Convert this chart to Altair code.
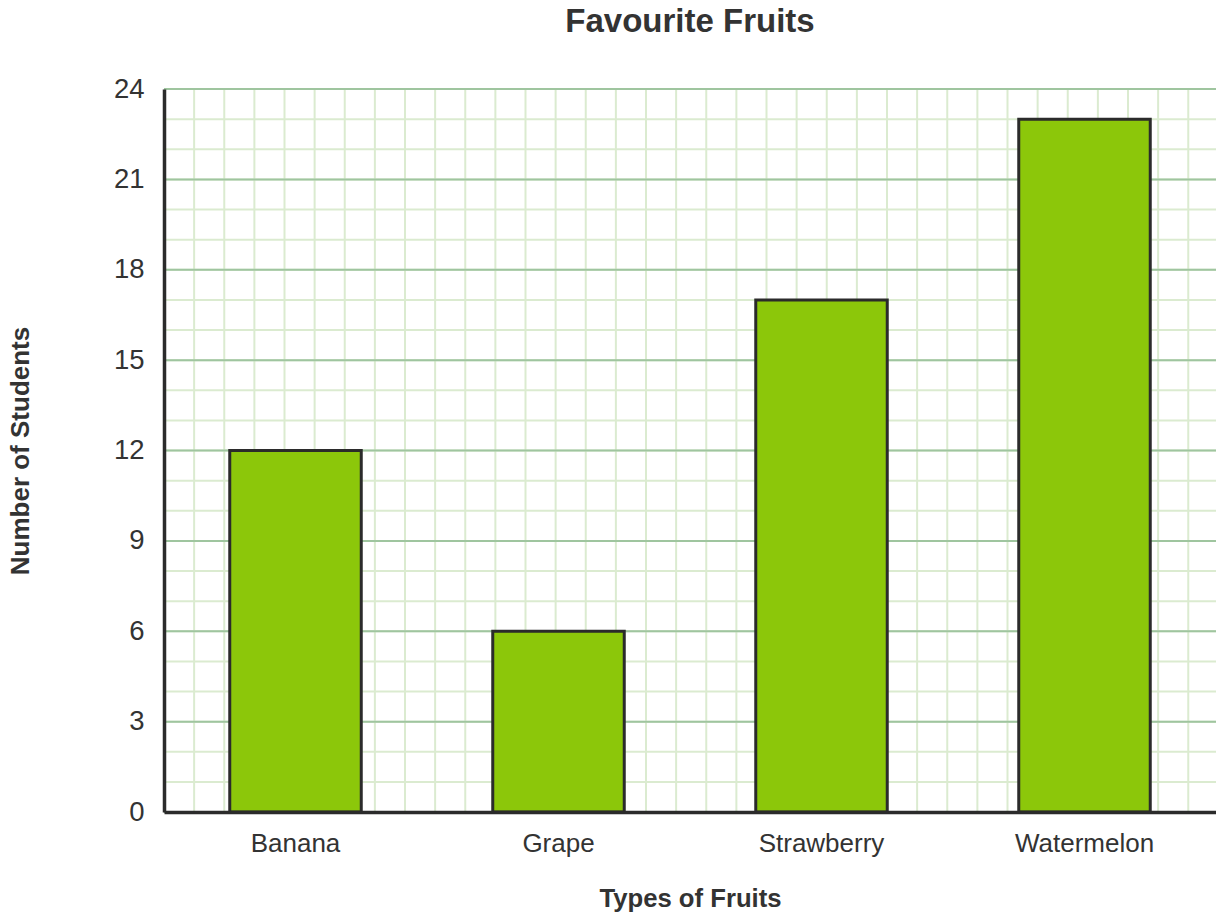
import altair as alt
import pandas as pd

# ---- data ----
fruits = ["Banana", "Grape", "Strawberry", "Watermelon"]
students = [12, 6, 17, 23]
y_ticks = [0, 3, 6, 9, 12, 15, 18, 21, 24]
minor_y = [0, 1, 2, 3, 4, 5, 6, 7, 8, 9, 10, 11, 12, 13, 14, 15, 16, 17, 18, 19, 20, 21, 22, 23, 24]
minor_x = list(range(1, 35))

W, H = 1052, 723
FONT = "Liberation Sans"
TXT = "#333333"

bars_df = pd.DataFrame({"fruit": fruits, "students": students})
minor_y_df = pd.DataFrame({"students": minor_y})
major_y_df = pd.DataFrame({"students": y_ticks})
minor_x_df = pd.DataFrame({"u": minor_x})

yscale = alt.Scale(domain=[0, 24], nice=False, zero=True)
yaxis = alt.Axis(
    title="Number of Students",
    values=y_ticks,
    ticks=False,
    grid=False,
    labelPadding=20,
    labelFontSize=27.5,
    labelFont=FONT,
    labelColor=TXT,
    titleFontSize=26,
    titleFont=FONT,
    titleFontWeight="bold",
    titleColor=TXT,
    titlePadding=80,
    domainColor="#2b2b2b",
    domainWidth=3.5,
    zindex=2,
)
Y = alt.Y("students:Q", scale=yscale, axis=yaxis)

minor_h = alt.Chart(minor_y_df).mark_rule(color="#dbebd0", strokeWidth=2).encode(y=Y)
minor_v = alt.Chart(minor_x_df).mark_rule(color="#dbebd0", strokeWidth=2).encode(
    x=alt.X("u:Q", scale=alt.Scale(domain=[0, 24 * W / H], nice=False, zero=True), axis=None)
)
major_h = alt.Chart(major_y_df).mark_rule(color="#9fc59f", strokeWidth=2).encode(y=Y)

bars = alt.Chart(bars_df).mark_bar(
    color="#8cc70a", stroke="#2b2b2b", strokeWidth=3
).encode(
    x=alt.X(
        "fruit:N",
        sort=fruits,
        scale=alt.Scale(paddingInner=0.5, paddingOuter=0.25),
        axis=alt.Axis(
            title="Types of Fruits",
            labelAngle=0,
            ticks=False,
            labelPadding=18,
            labelFontSize=26,
            labelFont=FONT,
            labelColor=TXT,
            titleFontSize=25.7,
            titleFont=FONT,
            titleFontWeight="bold",
            titleColor=TXT,
            titlePadding=30,
            domainColor="#2b2b2b",
            domainWidth=3.5,
            zindex=2,
        ),
    ),
    y=Y,
)

chart = (
    alt.layer(minor_h, minor_v, major_h, bars)
    .resolve_scale(x="independent")
    .properties(
        width=W,
        height=H,
        title=alt.TitleParams(
            "Favourite Fruits",
            fontSize=33,
            font=FONT,
            fontWeight="bold",
            color=TXT,
            anchor="middle",
            offset=36,
        ),
        autosize=alt.AutoSizeParams(type="none"),
        padding={"left": 156, "top": 81, "right": 0, "bottom": 100},
    )
    .configure_view(stroke=None)
)

chart.save("out.html", embed_options={"renderer": "svg", "actions": False})
